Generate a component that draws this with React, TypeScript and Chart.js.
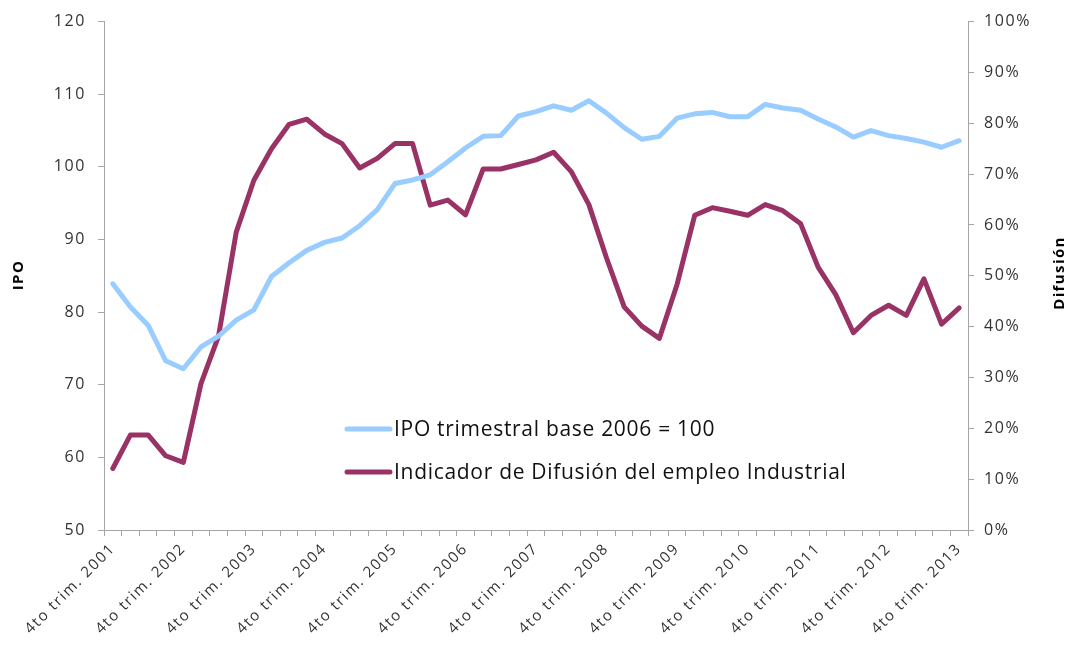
import React, { useEffect, useRef } from "react";
import { Chart, registerables } from "chart.js";

Chart.register(...registerables);

const quarters = [
  "4to trim. 2001",
  "1er trim. 2002", "2do trim. 2002", "3er trim. 2002", "4to trim. 2002",
  "1er trim. 2003", "2do trim. 2003", "3er trim. 2003", "4to trim. 2003",
  "1er trim. 2004", "2do trim. 2004", "3er trim. 2004", "4to trim. 2004",
  "1er trim. 2005", "2do trim. 2005", "3er trim. 2005", "4to trim. 2005",
  "1er trim. 2006", "2do trim. 2006", "3er trim. 2006", "4to trim. 2006",
  "1er trim. 2007", "2do trim. 2007", "3er trim. 2007", "4to trim. 2007",
  "1er trim. 2008", "2do trim. 2008", "3er trim. 2008", "4to trim. 2008",
  "1er trim. 2009", "2do trim. 2009", "3er trim. 2009", "4to trim. 2009",
  "1er trim. 2010", "2do trim. 2010", "3er trim. 2010", "4to trim. 2010",
  "1er trim. 2011", "2do trim. 2011", "3er trim. 2011", "4to trim. 2011",
  "1er trim. 2012", "2do trim. 2012", "3er trim. 2012", "4to trim. 2012",
  "1er trim. 2013", "2do trim. 2013", "3er trim. 2013", "4to trim. 2013",
];

const ipoValues = [
  83.9, 80.7, 78.2, 73.3, 72.2, 75.2, 76.7, 78.9, 80.3, 84.9,
  86.8, 88.5, 89.6, 90.2, 91.9, 94.1, 97.7, 98.2, 98.9, 100.7,
  102.6, 104.2, 104.3, 107.0, 107.6, 108.4, 107.8, 109.1, 107.4, 105.4,
  103.8, 104.2, 106.7, 107.3, 107.5, 106.9, 106.9, 108.6, 108.1, 107.8,
  106.6, 105.5, 104.1, 105.0, 104.3, 103.9, 103.4, 102.7, 103.6,
];

const difusionValues = [
  12.1, 18.7, 18.7, 14.6, 13.3, 28.8, 38.2, 58.6, 68.8, 75.0,
  79.8, 80.8, 77.9, 76.0, 71.2, 73.1, 76.0, 76.0, 63.9, 64.9,
  62.0, 71.0, 71.0, 71.9, 72.8, 74.3, 70.5, 64.0, 53.5, 43.9,
  40.1, 37.7, 48.3, 61.9, 63.4, 62.7, 61.9, 64.0, 62.8, 60.3,
  51.7, 46.3, 38.8, 42.2, 44.2, 42.2, 49.4, 40.5, 43.7,
];

const seriesNames = [
  "IPO trimestral base 2006 = 100",
  "Indicador de Difusión del empleo Industrial",
];
const axisTitles = ["IPO", "Difusión"];

const BLUE = "#99CCFF";
const PURPLE = "#993366";
const AXIS = "#A6A6A6";
const FONT = '"Open Sans", "DejaVu Sans", sans-serif';
const SPACING = "1.6px";

const setSpacing = (chart: any) => {
  const ctx = chart.ctx as any;
  if (ctx && "letterSpacing" in ctx) ctx.letterSpacing = SPACING;
};

const spacingPlugin = {
  id: "spacing",
  beforeInit: setSpacing,
  beforeUpdate: setSpacing,
  beforeLayout: setSpacing,
  beforeDraw: setSpacing,
};

const overlayPlugin = {
  id: "overlay",
  afterDraw(chart: any) {
    const ctx = chart.ctx as any;
    ctx.save();
    const colors = [BLUE, PURPLE];
    seriesNames.forEach((name, k) => {
      const y = 429 + k * 43;
      ctx.strokeStyle = colors[k];
      ctx.lineWidth = 5;
      ctx.lineCap = "round";
      ctx.beginPath();
      ctx.moveTo(347, y);
      ctx.lineTo(390, y);
      ctx.stroke();
      ctx.fillStyle = "#111";
      ctx.font = `21px ${FONT}`;
      if ("letterSpacing" in ctx) ctx.letterSpacing = "0.7px";
      ctx.textBaseline = "middle";
      ctx.textAlign = "left";
      ctx.fillText(name, 394, y + 1);
    });
    if ("letterSpacing" in ctx) ctx.letterSpacing = "1.4px";
    ctx.font = `bold 15px ${FONT}`;
    ctx.fillStyle = "#000";
    ctx.textAlign = "center";
    ctx.textBaseline = "middle";
    ctx.save();
    ctx.translate(19, 275);
    ctx.rotate(-Math.PI / 2);
    ctx.fillText(axisTitles[0], 0, 0);
    ctx.restore();
    ctx.save();
    ctx.translate(1060, 273);
    ctx.rotate(-Math.PI / 2);
    ctx.fillText(axisTitles[1], 0, 0);
    ctx.restore();
    ctx.restore();
  },
};

export default function App() {
  const ref = useRef<HTMLCanvasElement | null>(null);
  useEffect(() => {
    if (!ref.current) return;
    const chart = new Chart(ref.current, {
      type: "line",
      data: {
        labels: quarters,
        datasets: [
          {
            label: seriesNames[0],
            data: ipoValues,
            yAxisID: "y",
            borderColor: BLUE,
            backgroundColor: BLUE,
            borderWidth: 5,
            pointRadius: 0,
            tension: 0,
            borderCapStyle: "round",
            borderJoinStyle: "round",
          },
          {
            label: seriesNames[1],
            data: difusionValues,
            yAxisID: "y1",
            borderColor: PURPLE,
            backgroundColor: PURPLE,
            borderWidth: 5,
            pointRadius: 0,
            tension: 0,
            borderCapStyle: "round",
            borderJoinStyle: "round",
          },
        ],
      },
      options: {
        animation: false,
        responsive: false,
        maintainAspectRatio: false,
        layout: { padding: { top: 21, left: 0, right: 0, bottom: 0 } },
        plugins: {
          legend: { display: false },
          tooltip: { enabled: false },
        },
        scales: {
          x: {
            type: "category",
            offset: true,
            grid: {
              offset: true,
              drawOnChartArea: false,
              drawTicks: true,
              tickLength: 6,
              color: AXIS,
            },
            border: { color: AXIS, width: 1 },
            ticks: {
              autoSkip: false,
              maxRotation: 45,
              minRotation: 45,
              padding: 4,
              color: "#333",
              font: { family: FONT, size: 15 },
              callback: (_v: any, i: number) => (i % 4 === 0 ? quarters[i] : ""),
            },
            afterFit: (s: any) => {
              s.height = 115;
            },
          },
          y: {
            position: "left",
            min: 50,
            max: 120,
            grid: {
              drawOnChartArea: false,
              drawTicks: true,
              tickLength: 6,
              color: AXIS,
            },
            border: { color: AXIS, width: 1 },
            ticks: {
              stepSize: 10,
              padding: 12,
              color: "#333",
              font: { family: FONT, size: 16 },
            },
            afterFit: (s: any) => {
              s.width = 104;
            },
          },
          y1: {
            position: "right",
            min: 0,
            max: 100,
            grid: {
              drawOnChartArea: false,
              drawTicks: true,
              tickLength: 6,
              color: AXIS,
            },
            border: { color: AXIS, width: 1 },
            ticks: {
              stepSize: 10,
              padding: 10,
              color: "#333",
              font: { family: FONT, size: 16 },
              callback: (v: any) => `${v}%`,
            },
            afterFit: (s: any) => {
              s.width = 100;
            },
          },
        },
      },
      plugins: [spacingPlugin, overlayPlugin],
    });
    return () => chart.destroy();
  }, []);

  return (
    <div style={{ position: "absolute", left: 0, top: 0, width: 1068, height: 645, background: "#fff" }}>
      <canvas ref={ref} width={1068} height={645} style={{ width: 1068, height: 645 }} />
    </div>
  );
}
